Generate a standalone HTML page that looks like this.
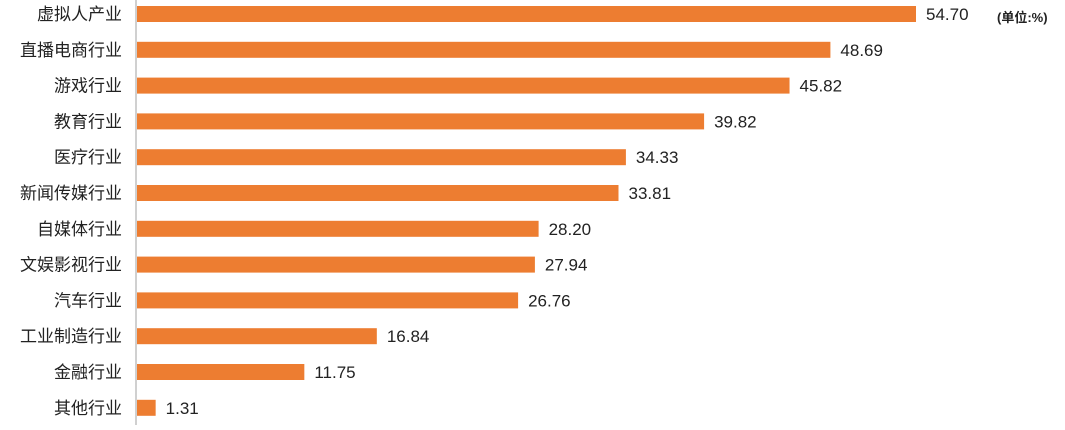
<!DOCTYPE html>
<html><head><meta charset="utf-8"><style>
html,body{margin:0;padding:0;background:#fff;}
svg text{font-family:"Liberation Sans","Noto Sans CJK SC",sans-serif;}
</style></head><body>
<svg width="1065" height="425">
<line x1="136" y1="0" x2="136" y2="425" stroke="#d0d0d0" stroke-width="2"/>
<text x="997" y="22" font-size="13" font-weight="bold" fill="#222">(单位:%)</text>
<g id="bars"></g>
</svg>
<script>
const categories=["虚拟人产业","直播电商行业","游戏行业","教育行业","医疗行业","新闻传媒行业","自媒体行业","文娱影视行业","汽车行业","工业制造行业","金融行业","其他行业"];
const values=[54.70,48.69,45.82,39.82,34.33,33.81,28.20,27.94,26.76,16.84,11.75,1.31];
const x0=137, scale=(916-137)/54.70, top0=6, pitch=35.8, bh=16;
function xs(v){return x0+v*scale;}
function ys(i){return top0+i*pitch;}
const g=document.getElementById('bars');
const ns="http://www.w3.org/2000/svg";
categories.forEach((c,i)=>{
  const r=document.createElementNS(ns,'rect');
  
  
  r.setAttribute('x',x0);r.setAttribute('y',ys(i));
  r.setAttribute('width',xs(values[i])-x0);r.setAttribute('height',bh);
  r.setAttribute('fill','#ed7d31');
  g.appendChild(r);
  const t=document.createElementNS(ns,'text');
  
  
  t.setAttribute('x',122);t.setAttribute('y',ys(i)+bh/2+6);
  t.setAttribute('text-anchor','end');t.setAttribute('font-size','17');t.setAttribute('fill','#222');
  t.textContent=c;g.appendChild(t);
  const v=document.createElementNS(ns,'text');
  
  
  v.setAttribute('x',xs(values[i])+10);v.setAttribute('y',ys(i)+bh/2+6);
  v.setAttribute('font-size','17');v.setAttribute('fill','#222');
  v.textContent=values[i].toFixed(2);g.appendChild(v);
});
</script>
</body></html>
